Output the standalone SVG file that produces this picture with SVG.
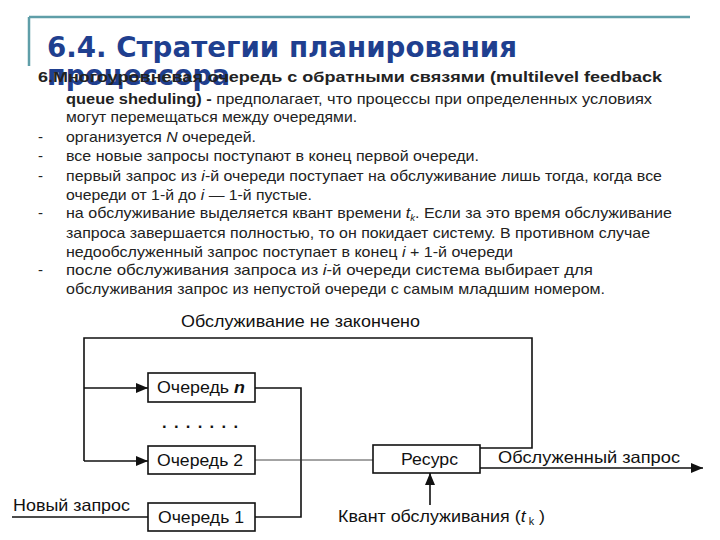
<svg xmlns="http://www.w3.org/2000/svg" width="720" height="540" viewBox="0 0 720 540">
<style>
.title{font-family:"DejaVu Sans",sans-serif;font-weight:bold;font-size:28px;fill:#1f3f8f}
.body{font-family:"Liberation Sans",Arial,sans-serif;font-size:15px;fill:#222}
.b{font-weight:bold}
.i{font-style:italic}
.lbl{font-family:"Liberation Sans",Arial,sans-serif;font-size:16.5px;fill:#111}
.box{fill:#fff;stroke:#111;stroke-width:1.6}
.ln{fill:none;stroke:#111;stroke-width:1.6}
.thin{fill:none;stroke:#333;stroke-width:0.9}
</style>
<defs>
<marker id="arr" markerWidth="12" markerHeight="10" refX="12" refY="5" orient="auto" markerUnits="userSpaceOnUse">
<path d="M0,0 L12,5 L0,10 Z" fill="#111"/>
</marker>
</defs>
<rect width="720" height="540" fill="#fff"/>
<g id="header">
<path d="M29,17 H690 M29,17 V66" fill="none" stroke="#5f9ea8" stroke-width="2.5"/>
<text class="title" x="47" y="57" textLength="470" lengthAdjust="spacingAndGlyphs">6.4. Стратегии планирования</text>
<text class="title" x="47" y="85" textLength="183" lengthAdjust="spacingAndGlyphs">процессора</text>
</g>
<g id="text">
<text class="body b" x="38" y="82" textLength="624" lengthAdjust="spacingAndGlyphs">6.Многоуровневая очередь с обратными связями (multilevel feedback</text>
<text class="body" x="66" y="104" textLength="586" lengthAdjust="spacingAndGlyphs"><tspan class="b">queue sheduling) - </tspan>предполагает, что процессы при определенных условиях</text>
<text class="body" x="66" y="122" textLength="291" lengthAdjust="spacingAndGlyphs">могут перемещаться между очередями.</text>
<text class="body" x="38" y="142">-</text>
<text class="body" x="66" y="142" textLength="190" lengthAdjust="spacingAndGlyphs">организуется <tspan class="i">N</tspan> очередей.</text>
<text class="body" x="38" y="161">-</text>
<text class="body" x="66" y="161" textLength="413" lengthAdjust="spacingAndGlyphs">все новые запросы поступают в конец первой очереди.</text>
<text class="body" x="38" y="181">-</text>
<text class="body" x="66" y="181" textLength="596" lengthAdjust="spacingAndGlyphs">первый запрос из <tspan class="i">i</tspan>-й очереди поступает на обслуживание лишь тогда, когда все</text>
<text class="body" x="66" y="200" textLength="246" lengthAdjust="spacingAndGlyphs">очереди от 1-й до <tspan class="i">i</tspan> — 1-й пустые.</text>
<text class="body" x="38" y="218">-</text>
<text class="body" x="66" y="218" textLength="606" lengthAdjust="spacingAndGlyphs">на обслуживание выделяется квант времени <tspan class="i">t</tspan><tspan class="i" font-size="9" dy="3">k</tspan><tspan dy="-3">. Если за это время обслуживание</tspan></text>
<text class="body" x="66" y="238" textLength="584" lengthAdjust="spacingAndGlyphs">запроса завершается полностью, то он покидает систему. В противном случае</text>
<text class="body" x="66" y="257" textLength="447" lengthAdjust="spacingAndGlyphs">недообслуженный запрос поступает в конец <tspan class="i">i</tspan> + 1-й очереди</text>
<text class="body" x="38" y="275">-</text>
<text class="body" x="66" y="275" textLength="527" lengthAdjust="spacingAndGlyphs">после обслуживания запроса из <tspan class="i">i</tspan>-й очереди система выбирает для</text>
<text class="body" x="66" y="294" textLength="539" lengthAdjust="spacingAndGlyphs">обслуживания запрос из непустой очереди с самым младшим номером.</text>
</g>
<g id="connectors">
<path class="ln" d="M480,448 H532 V338 H84 V461"/>
<path class="ln" d="M84,388 H148" marker-end="url(#arr)"/>
<path class="ln" d="M84,461 H148" marker-end="url(#arr)"/>
<path class="ln" d="M255,388 H301 V517 H255"/>
<path class="ln" d="M12,517 H148"/>
<path class="thin" d="M255,460 H373"/>
<path class="ln" d="M480,468 H703" marker-end="url(#arr)"/>
<path class="ln" d="M430,505 V473" marker-end="url(#arr)"/>
</g>
<g id="queue-n">
<rect class="box" x="148" y="373" width="107" height="29"/>
<text class="lbl" x="157" y="393" textLength="88" lengthAdjust="spacingAndGlyphs">Очередь <tspan class="i b">n</tspan></text>
</g>
<g id="dots">
<text class="lbl b" x="162" y="428" textLength="76" lengthAdjust="spacing">. . . . . . .</text>
</g>
<g id="queue-2">
<rect class="box" x="148" y="446" width="107" height="28"/>
<text class="lbl" x="157" y="466" textLength="86" lengthAdjust="spacingAndGlyphs">Очередь 2</text>
</g>
<g id="queue-1">
<rect class="box" x="148" y="503" width="107" height="28"/>
<text class="lbl" x="158" y="523" textLength="86" lengthAdjust="spacingAndGlyphs">Очередь 1</text>
</g>
<g id="resource">
<rect class="box" x="373" y="445" width="107" height="28"/>
<text class="lbl" x="401" y="465" textLength="57" lengthAdjust="spacingAndGlyphs">Ресурс</text>
</g>
<g id="labels">
<text class="lbl" x="181" y="327" textLength="239" lengthAdjust="spacingAndGlyphs">Обслуживание не закончено</text>
<text class="lbl" x="498" y="463" textLength="182" lengthAdjust="spacingAndGlyphs">Обслуженный запрос</text>
<text class="lbl" x="13" y="511" textLength="117" lengthAdjust="spacingAndGlyphs">Новый запрос</text>
<text class="lbl" x="338" y="522" textLength="207" lengthAdjust="spacingAndGlyphs">Квант обслуживания (<tspan class="i">t</tspan><tspan font-size="10" dy="3"> k</tspan><tspan dy="-3"> )</tspan></text>
</g>
</svg>
